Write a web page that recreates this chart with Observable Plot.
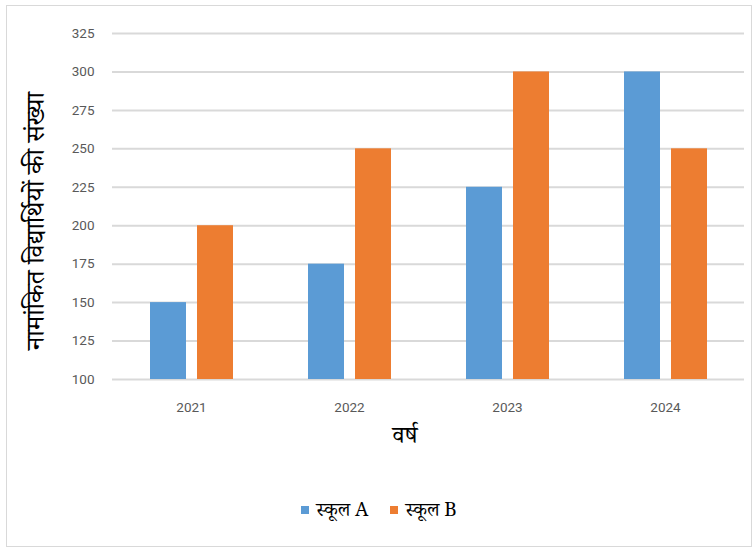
<!DOCTYPE html>
<html><head><meta charset="utf-8">
<script src="https://cdn.jsdelivr.net/npm/d3@7"></script>
<script src="https://cdn.jsdelivr.net/npm/@observablehq/plot@0.6"></script>
<style>
body{margin:0;background:#fff;}
#wrap{position:absolute;left:6px;top:5px;width:744px;height:540px;border:1px solid #d9d9d9;background:#fff;}
#chart svg{font-family:"Liberation Sans Narrow","Roboto","Open Sans",sans-serif;}
.lab{position:absolute;white-space:nowrap;font-size:24px;line-height:1;color:#000;font-family:"Noto Serif Devanagari","Noto Sans Devanagari","Liberation Serif",serif;}
#ylab{left:33px;top:215px;font-size:26px;transform:translate(-50%,-50%) rotate(-90deg);}
#xlab{left:398px;top:434px;transform:translate(-50%,-50%);}
#legend{position:absolute;left:0;top:492px;width:744px;text-align:center;font-family:"Noto Serif Devanagari","Noto Sans Devanagari","Liberation Serif",serif;font-size:19px;color:#000;}
#legend span.item{display:inline-block;margin:0 11px;}
#legend i{display:inline-block;width:8px;height:8px;margin-right:7px;vertical-align:middle;}
</style></head>
<body><div id="wrap"><div id="chart"></div><div id="ylab" class="lab"></div><div id="xlab" class="lab"></div><div id="legend"></div></div>
<script>
const years = ["2021","2022","2023","2024"];
const series = ["स्कूल A","स्कूल B"];
const schoolA = [150,175,225,300];
const schoolB = [200,250,300,250];
const yTicks = [100,125,150,175,200,225,250,275,300,325];
const colors = ["#5b9bd5","#ed7d31"];
const yLabel = "नामांकित विद्यार्थियों की संख्या";
const xLabel = "वर्ष";

const data = [];
years.forEach((y,i)=>{
  data.push({year:y, series:series[0], value:schoolA[i]});
  data.push({year:y, series:series[1], value:schoolB[i]});
});
const base = yTicks[0];

const chart = Plot.plot({
  width:744, height:488,
  marginLeft:104, marginRight:6, marginTop:27, marginBottom:115,
  fx:{domain:years, padding:0, label:null},
  x:{domain:series, axis:null, paddingInner:0.24, paddingOuter:0.8},
  y:{domain:[yTicks[0], yTicks[yTicks.length-1]], ticks:yTicks, label:null},
  color:{domain:series, range:colors},
  marks:[
    Plot.gridY(yTicks, {stroke:"#d9d9d9", strokeOpacity:1, strokeWidth:2}),
    Plot.barY(data, {fx:"year", x:"series", y1:()=>base, y2:"value", fill:"series"}),
    Plot.axisY(yTicks, {tickSize:0, tickPadding:18, fontSize:13.5, color:"#595959", label:null}),
    Plot.axisFx({anchor:"bottom", tickSize:0, tickPadding:23, fontSize:13.5, color:"#595959", label:null})
  ]
});
document.getElementById("chart").appendChild(chart);
document.getElementById("ylab").textContent = yLabel;
document.getElementById("xlab").textContent = xLabel;

const leg = document.getElementById("legend");
series.forEach((s,i)=>{
  const sp = document.createElement("span"); sp.className="item";
  const sw = document.createElement("i"); sw.style.background = colors[i];
  sp.appendChild(sw); sp.appendChild(document.createTextNode(s));
  leg.appendChild(sp);
});
</script></body></html>
